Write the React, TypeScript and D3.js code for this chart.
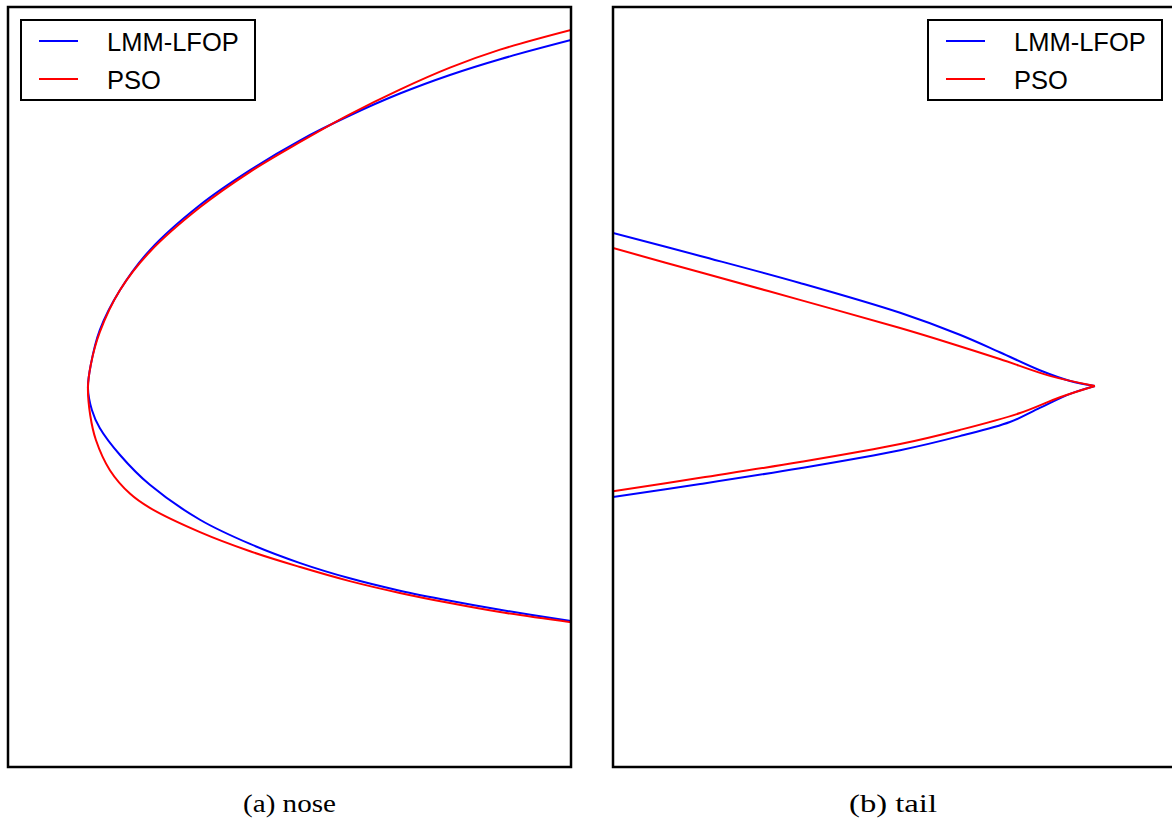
import React from "react";
import * as d3 from "d3";

type Pt = [number, number];

// Nose panel (a): x in % of panel width, y in same units (upper/lower surfaces from leading edge)
const noseBlueUpper: Pt[] = [[14.2,0],[14.7,4.1],[16.3,10.3],[19.9,17.4],[25.2,24.5],[34.1,32.5],[43.0,38.7],[51.9,44.0],[60.7,48.4],[69.6,52.3],[78.5,55.6],[87.4,58.4],[100,61.8]];
const noseRedUpper: Pt[] = [[14.2,0],[14.7,4.1],[16.3,9.9],[19.9,17.4],[25.2,24.2],[34.1,32.1],[43.0,38.4],[51.9,43.7],[60.7,48.6],[69.6,53.0],[78.5,56.9],[87.4,60.1],[100,63.6]];
const noseBlueLower: Pt[] = [[14.2,0],[14.9,-3.9],[16.3,-7.1],[19.9,-11.9],[25.2,-17.2],[34.1,-23.4],[43.0,-27.7],[51.9,-31.1],[60.7,-33.8],[69.6,-36.0],[78.5,-37.8],[87.4,-39.4],[100,-41.4]];
const noseRedLower: Pt[] = [[14.2,0],[14.6,-4.8],[15.6,-9.2],[18.1,-14.6],[21.7,-18.8],[25.2,-21.3],[34.1,-25.6],[43.0,-29.0],[51.9,-31.8],[60.7,-34.3],[69.6,-36.4],[78.5,-38.2],[87.4,-39.8],[100,-41.6]];

// Tail panel (b): upper/lower surfaces ending at the trailing edge
const tailBlueUpper: Pt[] = [[0,27.2],[15.5,23.1],[33.2,18.3],[51.0,13.0],[61.6,9.1],[68.7,6.0],[75.8,2.8],[81.2,0.9],[85.6,0]];
const tailRedUpper: Pt[] = [[0,24.5],[15.5,20.2],[33.2,15.3],[51.0,10.3],[59.9,7.6],[68.7,4.8],[77.6,1.8],[85.6,0]];
const tailBlueLower: Pt[] = [[0,-19.7],[15.5,-17.4],[33.2,-14.6],[51.0,-11.4],[61.6,-8.9],[70.5,-6.4],[75.8,-3.9],[81.2,-1.4],[85.6,0]];
const tailRedLower: Pt[] = [[0,-18.7],[15.5,-16.3],[33.2,-13.5],[51.0,-10.3],[61.6,-7.8],[72.3,-4.8],[79.4,-2.0],[85.6,0]];

const seriesNames = ["LMM-LFOP", "PSO"];
const seriesColors = ["#0000ff", "#ff0000"];
const captions = ["(a) nose", "(b) tail"];

const PW = 563;
const PH = 760;

function Panel({ left, top, yZero, curves, legendRight, caption, captionX, captionW, id }: any) {
  const x = d3.scaleLinear().domain([0, 100]).range([left, left + PW]);
  const unit = PW / 100;
  const y = d3.scaleLinear().domain([0, 1]).range([yZero, yZero - unit]);
  const line = d3.line<Pt>().x(d => x(d[0])).y(d => y(d[1])).curve(d3.curveCatmullRom.alpha(0.5));
  const lx = legendRight ? left + PW - 248 : left + 13;
  const ly = top + 13;
  return (
    <g>
      <defs>
        <clipPath id={id}>
          <rect x={left} y={top} width={PW} height={PH} />
        </clipPath>
      </defs>
      <g clipPath={`url(#${id})`}>
        {curves.map((c: any, i: number) => (
          <path key={i} d={line(c.data) || ""} fill="none" stroke={c.color} strokeWidth={2} strokeLinejoin="round" />
        ))}
      </g>
      <rect x={left} y={top} width={PW} height={PH} fill="none" stroke="#000" strokeWidth={2.5} />
      <rect x={lx} y={ly} width={234} height={80} fill="#fff" stroke="#000" strokeWidth={2} />
      {seriesNames.map((n, i) => (
        <g key={n}>
          <line x1={lx + 18} x2={lx + 57} y1={ly + 21 + i * 38} y2={ly + 21 + i * 38} stroke={seriesColors[i]} strokeWidth={2} />
          <text x={lx + 86} y={ly + 30.5 + i * 38} fontFamily="Liberation Sans, Arial, sans-serif" fontSize={25.5} fill="#000">{n}</text>
        </g>
      ))}
      <text x={captionX - captionW / 2} y={812} textLength={captionW} lengthAdjust="spacingAndGlyphs" fontFamily="Liberation Serif, DejaVu Serif, serif" fontSize={26} fill="#000">{caption}</text>
    </g>
  );
}

// join upper surface (reversed) with lower surface so the nose/tail is one smooth curve
const joinNose = (u: Pt[], l: Pt[]): Pt[] => [...u.slice().reverse(), ...l.slice(1)];
const joinTail = (u: Pt[], l: Pt[]): Pt[] => [...u, ...l.slice(0, -1).reverse()];

export default function App() {
  return (
    <svg width={1172} height={825} style={{ position: "absolute", left: 0, top: 0, background: "#fff" }}>
      <rect x={0} y={0} width={1172} height={825} fill="#fff" />
      <Panel id="clipA" left={8} top={7} yZero={388} legendRight={false} caption={captions[0]} captionX={289.5} captionW={93}
        curves={[
          { data: joinNose(noseBlueUpper, noseBlueLower), color: seriesColors[0] },
          { data: joinNose(noseRedUpper, noseRedLower), color: seriesColors[1] },
        ]} />
      <Panel id="clipB" left={613} top={7} yZero={386} legendRight={true} caption={captions[1]} captionX={893} captionW={88}
        curves={[
          { data: tailBlueUpper, color: seriesColors[0] },
          { data: tailBlueLower, color: seriesColors[0] },
          { data: tailRedUpper, color: seriesColors[1] },
          { data: tailRedLower, color: seriesColors[1] },
        ]} />
    </svg>
  );
}
